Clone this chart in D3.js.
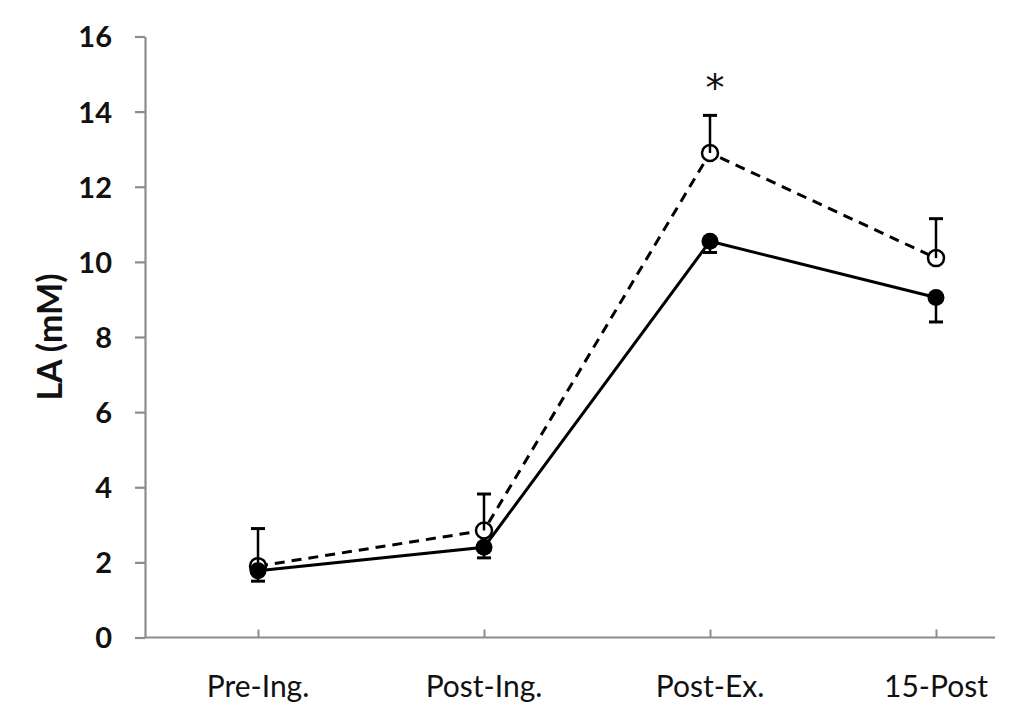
<!DOCTYPE html>
<html>
<head>
<meta charset="utf-8">
<script src="https://cdn.jsdelivr.net/npm/d3@7"></script>
<style>
  html, body { margin: 0; padding: 0; background: #fff; }
  svg { display: block; }
</style>
</head>
<body>
<svg id="chart" width="1024" height="719"></svg>
<script>
// ---- data ----
const categories = ["Pre-Ing.", "Post-Ing.", "Post-Ex.", "15-Post"];
const openMeans = [1.9, 2.85, 12.9, 10.1];     // open circles, dashed line
const openErr = [1.0, 0.97, 1.0, 1.05];        // upper error bars
const filledMeans = [1.78, 2.4, 10.55, 9.05];  // filled circles, solid line
const filledErr = [0.28, 0.28, 0.3, 0.65];     // lower error bars
const yTicks = [0, 2, 4, 6, 8, 10, 12, 14, 16];
const yTitle = "LA (mM)";
const sigMarks = [{ index: 2, label: "*" }];

// ---- layout ----
const svg = d3.select("#chart");
const axisColor = "#8c8c8c";
const font = "Lato, 'Open Sans', sans-serif";

const x = d3.scalePoint().domain(categories).range([258, 936]);
const y = d3.scaleLinear().domain([0, 16]).range([637.5, 36.5]);

// y axis
const yAxis = svg.append("g").attr("transform", "translate(145,0)")
  .call(d3.axisLeft(y).tickValues(yTicks).tickSize(10).tickPadding(23).tickSizeOuter(0));
yAxis.select(".domain").attr("stroke", axisColor).attr("stroke-width", 2.2);
yAxis.selectAll(".tick line").attr("stroke", axisColor).attr("stroke-width", 2.2);
yAxis.selectAll(".tick text")
  .attr("fill", "#111").style("font-family", font).style("font-weight", "700")
  .style("font-size", "29px").attr("dy", "0.36em");

// x axis
const xAxis = svg.append("g").attr("transform", `translate(0,${y(0)})`)
  .call(d3.axisTop(x).tickSize(8).tickSizeOuter(0).tickFormat(""));
xAxis.select(".domain").remove();
xAxis.append("line").attr("x1", 145).attr("x2", 995).attr("y1", 0).attr("y2", 0)
  .attr("stroke", axisColor).attr("stroke-width", 2.2);
xAxis.selectAll(".tick line").attr("stroke", axisColor).attr("stroke-width", 2);

svg.append("g").selectAll("text").data(categories).join("text")
  .attr("x", d => x(d)).attr("y", 697)
  .attr("text-anchor", "middle")
  .style("font-family", font).style("font-size", "30px").attr("fill", "#111")
  .text(d => d);

// y title
svg.append("text")
  .attr("transform", `translate(50,${(y(0) + y(16)) / 2}) rotate(-90)`)
  .attr("text-anchor", "middle").attr("dy", "0.36em")
  .style("font-family", font).style("font-weight", "700").style("font-size", "34px")
  .attr("fill", "#111").text(yTitle);

const line = d3.line().x((d, i) => x(categories[i])).y(d => y(d));

// open series
svg.append("path").datum(openMeans).attr("d", line)
  .attr("fill", "none").attr("stroke", "#000").attr("stroke-width", 3)
  .attr("stroke-dasharray", "10,7");

// filled series line
svg.append("path").datum(filledMeans).attr("d", line)
  .attr("fill", "none").attr("stroke", "#000").attr("stroke-width", 3);

// open markers
svg.append("g").selectAll("circle").data(openMeans).join("circle")
  .attr("cx", (d, i) => x(categories[i])).attr("cy", d => y(d)).attr("r", 8)
  .attr("fill", "#fff").attr("stroke", "#000").attr("stroke-width", 2.5);

// open error bars (upper)
const oe = svg.append("g");
openMeans.forEach((m, i) => {
  const cx = x(categories[i]);
  oe.append("line").attr("x1", cx).attr("x2", cx).attr("y1", y(m)).attr("y2", y(m + openErr[i]))
    .attr("stroke", "#000").attr("stroke-width", 2.5);
  oe.append("line").attr("x1", cx - 7).attr("x2", cx + 7).attr("y1", y(m + openErr[i])).attr("y2", y(m + openErr[i]))
    .attr("stroke", "#000").attr("stroke-width", 3);
});

// filled markers
svg.append("g").selectAll("circle").data(filledMeans).join("circle")
  .attr("cx", (d, i) => x(categories[i])).attr("cy", d => y(d)).attr("r", 8.5)
  .attr("fill", "#000");

// filled error bars (lower)
const fe = svg.append("g");
filledMeans.forEach((m, i) => {
  const cx = x(categories[i]);
  fe.append("line").attr("x1", cx).attr("x2", cx).attr("y1", y(m)).attr("y2", y(m - filledErr[i]))
    .attr("stroke", "#000").attr("stroke-width", 2.5);
  fe.append("line").attr("x1", cx - 7).attr("x2", cx + 7).attr("y1", y(m - filledErr[i])).attr("y2", y(m - filledErr[i]))
    .attr("stroke", "#000").attr("stroke-width", 3);
});

// significance marks
svg.append("g").selectAll("text").data(sigMarks).join("text")
  .attr("x", d => x(categories[d.index]) + 5)
  .attr("y", d => y(openMeans[d.index] + openErr[d.index]) - 14)
  .attr("text-anchor", "middle")
  .style("font-family", "'DejaVu Sans', sans-serif").style("font-size", "38px").attr("fill", "#111")
  .text(d => d.label);
</script>
</body>
</html>
